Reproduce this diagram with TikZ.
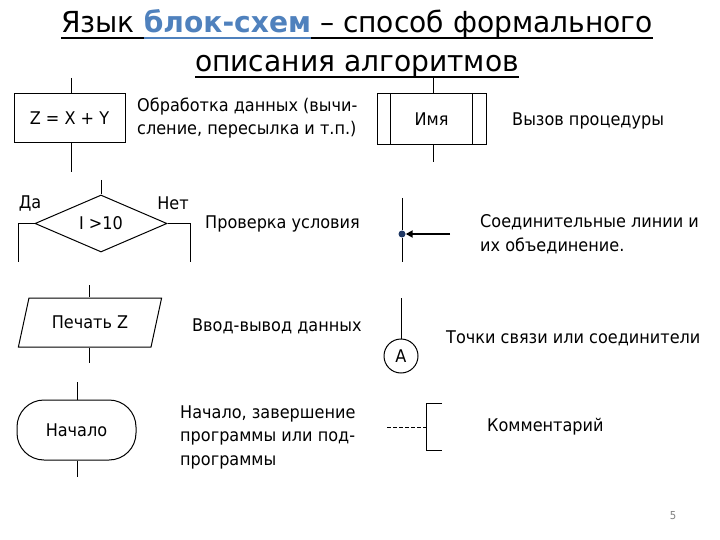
\documentclass[tikz,border=0pt]{standalone}
\usepackage{fontspec}
\setmainfont{DejaVu Sans}[FakeStretch=0.92]
\newfontfamily\titlefont{DejaVu Sans}[FakeStretch=0.97]
\usetikzlibrary{shapes.geometric,arrows.meta}
\definecolor{titleblue}{RGB}{79,129,189}
\definecolor{dotnavy}{RGB}{31,56,100}
\newcommand\myul[2]{\setbox0=\hbox{#2}\rlap{\rule[#1]{\wd0}{2pt}}\box0}
\tikzset{
  shp/.style={draw, line width=1pt, inner sep=0pt},
  conn/.style={line width=1pt},
  txt/.style={font=\fontsize{17.5}{23.5}\selectfont, inner sep=0pt, align=left},
  lbl/.style={txt, anchor=west},
}
\begin{document}
\begin{tikzpicture}[x=1pt,y=-1pt]
\useasboundingbox (0,0) rectangle (720,540);
% title
\node[anchor=base, inner sep=0pt, font=\titlefont\fontsize{29}{29}\selectfont] (t1) at (357,33)
  {\myul{-6pt}{Язык }{\color{titleblue}\myul{-6pt}{\bfseries блок-схем}}\myul{-6pt}{ – способ формального}};
\node[anchor=base, inner sep=0pt, font=\titlefont\fontsize{29}{29}\selectfont] (t2) at (357,72)
  {\myul{-6pt}{описания алгоритмов}};
% process
\node[shp, minimum width=111pt, minimum height=49pt, txt] (proc) at (69.5,118.5) {Z = X + Y};
\coordinate (procA) at (71,78);
\coordinate (procB) at (71,172);
\draw[conn] (procA) -- (procA|-proc.north);
\draw[conn] (procB|-proc.south) -- (procB);
\node[lbl] (procT) at (137,118) {Обработка данных (вычи-\\сление, пересылка и т.п.)};
% decision
\node[shp, diamond, minimum width=132pt, minimum height=57pt, aspect=2.3, txt] (dec) at (101,223.5) {I >10};
\coordinate (decA) at (101,180);
\coordinate (decL1) at (18,223.5);
\coordinate (decL2) at (18,262);
\coordinate (decR1) at (190,223.5);
\coordinate (decR2) at (190,262);
\draw[conn] (decA) -- (dec.north);
\draw[conn] (dec.west) -- (decL1) -- (decL2);
\draw[conn] (dec.east) -- (decR1) -- (decR2);
\node[txt] (yes) at (30,203) {Да};
\node[txt] (no) at (173,203) {Нет};
\node[lbl] (decT) at (205,224) {Проверка условия};
% call
\node[shp, minimum width=109pt, minimum height=51pt, txt] (call) at (431.5,119.5) {Имя};
\draw[conn] ([xshift=14pt]call.north west) -- ([xshift=14pt]call.south west);
\draw[conn] ([xshift=-14pt]call.north east) -- ([xshift=-14pt]call.south east);
\coordinate (callA) at (433,78);
\coordinate (callB) at (433,162);
\draw[conn] (callA) -- (callA|-call.north);
\draw[conn] (callB|-call.south) -- (callB);
\node[lbl] (callT) at (512,121) {Вызов процедуры};
% connecting lines
\node[circle, fill=dotnavy, minimum size=7pt, inner sep=0pt] (dot) at (402,234) {};
\coordinate (vA) at (402,198);
\coordinate (vB) at (402,262);
\coordinate (hA) at (450,234);
\draw[conn] (vA) -- (dot) -- (vB);
\draw[line width=2pt, -{Triangle[length=7pt,width=7pt]}] (hA) -- (dot.east);
\node[lbl] (lineT) at (480,234) {Соединительные линии и\\их объединение.};
% input/output
\node[shp, trapezium, trapezium left angle=63, trapezium right angle=117, trapezium stretches=true,
  minimum width=144pt, minimum height=49pt, txt] (io) at (90,322.5) {Печать Z};
\coordinate (ioA) at (89,285);
\coordinate (ioB) at (89,363);
\draw[conn] (ioA) -- (ioA|-io.north);
\draw[conn] (ioB|-io.south) -- (ioB);
\node[lbl] (ioT) at (192,326) {Ввод-вывод данных};
% terminal
\node[shp, rounded corners=27pt, minimum width=119pt, minimum height=60pt, txt] (term) at (76.5,430) {Начало};
\coordinate (termA) at (77,382);
\coordinate (termB) at (77,477);
\draw[conn] (termA) -- (termA|-term.north);
\draw[conn] (termB|-term.south) -- (termB);
\node[lbl] (termT) at (180,437) {Начало, завершение\\программы или под-\\программы};
% connector
\node[shp, circle, minimum size=34pt, txt] (conA) at (401,356) {A};
\coordinate (conT) at (401,298);
\draw[conn] (conT) -- (conA.north);
\node[lbl] (conTx) at (446,338) {Точки связи или соединители};
% comment
\coordinate (brTop) at (442,403);
\coordinate (brTL) at (426,403);
\coordinate (brBL) at (426,450);
\coordinate (brBot) at (442,450);
\coordinate (brMid) at (426,427);
\coordinate (dashA) at (387,427);
\draw[conn] (brTop) -- (brTL) -- (brBL) -- (brBot);
\draw[conn, dash pattern=on 4pt off 2pt] (dashA) -- (brMid);
\node[lbl] (comT) at (487,427) {Комментарий};
% page number
\node[inner sep=0pt, font=\fontsize{11}{11}\selectfont, text=gray] (pg) at (673,516) {5};
\end{tikzpicture}
\end{document}
